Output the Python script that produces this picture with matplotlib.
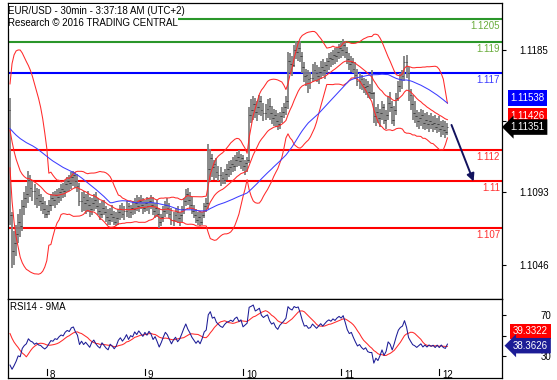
import numpy as np
import pandas as pd
import matplotlib
matplotlib.use('Agg')
import matplotlib.pyplot as plt
import matplotlib.transforms as mtransforms

plt.rcParams['font.family'] = ['Liberation Sans', 'DejaVu Sans']

# ---------------- data (EUR/USD 30 min) ----------------
pre_close = [1.1128, 1.1131, 1.1133, 1.1130, 1.1127, 1.1129, 1.1132, 1.1135, 1.1134, 1.1131,
             1.1128, 1.1130, 1.1133, 1.1136, 1.1138, 1.1135, 1.1132, 1.1134, 1.1137, 1.1139,
             1.1136, 1.1133, 1.1131, 1.1134, 1.1137, 1.1135, 1.1132, 1.1130, 1.1133, 1.1136,
             1.1138, 1.1140, 1.1137, 1.1134, 1.1136, 1.1139, 1.1141, 1.1138, 1.1135, 1.1137,
             1.1140, 1.1142, 1.1139, 1.1136, 1.1138, 1.1141, 1.1143, 1.1140, 1.1146]
first_open = 1.1146

close = [
    1.1078, 1.1055, 1.1060, 1.1066, 1.1074, 1.1071, 1.1084, 1.1089, 1.1092, 1.1101,
    1.1096, 1.1094, 1.1089, 1.1091, 1.1087, 1.1086, 1.1082, 1.1079, 1.1081, 1.1085,
    1.1089, 1.1088, 1.1091, 1.1090, 1.1093, 1.1095, 1.1094, 1.1098, 1.1100, 1.1099,
    1.1103, 1.1104, 1.1100, 1.1097, 1.1087, 1.1090, 1.1086, 1.1088, 1.1085, 1.1082,
    1.1086, 1.1088, 1.1084, 1.1081, 1.1079, 1.1083, 1.1080, 1.1077, 1.1075, 1.1079,
    1.1077, 1.1074, 1.1076, 1.1080, 1.1082, 1.1079, 1.1081, 1.1084, 1.1080, 1.1083,
    1.1082, 1.1086, 1.1084, 1.1087, 1.1085, 1.1083, 1.1086, 1.1084, 1.1087, 1.1085,
    1.1081, 1.1083, 1.1079, 1.1074, 1.1077, 1.1081, 1.1085, 1.1083, 1.1079, 1.1075,
    1.1078, 1.1080, 1.1076, 1.1078, 1.1082, 1.1087, 1.1092, 1.1088, 1.1085, 1.1081,
    1.1078, 1.1075, 1.1077, 1.1074, 1.1078, 1.1084, 1.1086, 1.1108, 1.1115, 1.1109,
    1.1111, 1.1106, 1.1104, 1.1102, 1.1101, 1.1105, 1.1108, 1.1109, 1.1111, 1.1110,
    1.1114, 1.1116, 1.1113, 1.1115, 1.1110, 1.1112, 1.1114, 1.1143, 1.1146, 1.1150,
    1.1145, 1.1148, 1.1152, 1.1146, 1.1144, 1.1147, 1.1149, 1.1144, 1.1141, 1.1143,
    1.1139, 1.1137, 1.1142, 1.1145, 1.1148, 1.1152, 1.1178, 1.1176, 1.1175, 1.1185,
    1.1184, 1.1186, 1.1181, 1.1174, 1.1168, 1.1169, 1.1166, 1.1167, 1.1172, 1.1170,
    1.1168, 1.1171, 1.1174, 1.1172, 1.1175, 1.1178, 1.1180, 1.1179, 1.1182, 1.1181,
    1.1184, 1.1186, 1.1185, 1.1188, 1.1184, 1.1179, 1.1176, 1.1177, 1.1173, 1.1169,
    1.1165, 1.1166, 1.1163, 1.1161, 1.1162, 1.1158, 1.1157, 1.1157, 1.1142, 1.1145,
    1.1141, 1.1144, 1.1148, 1.1140, 1.1143, 1.1151, 1.1148, 1.1140, 1.1146, 1.1154,
    1.1162, 1.1166, 1.1168, 1.1177, 1.1170, 1.1156, 1.1150, 1.1144, 1.1142, 1.1139,
    1.1141, 1.1143, 1.1138, 1.1140, 1.1137, 1.1139, 1.1137, 1.1138, 1.1135, 1.1137,
    1.1134, 1.1136, 1.1133, 1.1132, 1.11351]

high = [
    1.1154, 1.1080, 1.1068, 1.1072, 1.1079, 1.1082, 1.1088, 1.1093, 1.1097, 1.1107,
    1.1104, 1.1100, 1.1098, 1.1096, 1.1095, 1.1092, 1.1090, 1.1087, 1.1085, 1.1088,
    1.1092, 1.1093, 1.1094, 1.1095, 1.1096, 1.1098, 1.1099, 1.1101, 1.1103, 1.1104,
    1.1106, 1.1107, 1.1106, 1.1105, 1.1099, 1.1093, 1.1094, 1.1092, 1.1094, 1.1090,
    1.1089, 1.1092, 1.1093, 1.1089, 1.1086, 1.1087, 1.1088, 1.1084, 1.1082, 1.1083,
    1.1085, 1.1081, 1.1080, 1.1082, 1.1085, 1.1086, 1.1084, 1.1087, 1.1086, 1.1085,
    1.1087, 1.1089, 1.1091, 1.1090, 1.1091, 1.1089, 1.1088, 1.1090, 1.1089, 1.1091,
    1.1090, 1.1086, 1.1088, 1.1083, 1.1079, 1.1084, 1.1087, 1.1089, 1.1086, 1.1083,
    1.1080, 1.1083, 1.1084, 1.1080, 1.1084, 1.1089, 1.1095, 1.1096, 1.1093, 1.1090,
    1.1085, 1.1082, 1.1080, 1.1081, 1.1080, 1.1086, 1.1089, 1.1124, 1.1121, 1.1118,
    1.1114, 1.1115, 1.1110, 1.1109, 1.1106, 1.1108, 1.1111, 1.1113, 1.1114, 1.1116,
    1.1117, 1.1119, 1.1120, 1.1118, 1.1117, 1.1114, 1.1116, 1.1148, 1.1153, 1.1155,
    1.1154, 1.1152, 1.1156, 1.1155, 1.1151, 1.1150, 1.1153, 1.1154, 1.1149, 1.1147,
    1.1146, 1.1144, 1.1145, 1.1148, 1.1151, 1.1155, 1.1184, 1.1183, 1.1181, 1.1188,
    1.1191, 1.1190, 1.1191, 1.1184, 1.1177, 1.1173, 1.1172, 1.1171, 1.1176, 1.1177,
    1.1175, 1.1174, 1.1178, 1.1179, 1.1177, 1.1180, 1.1183, 1.1184, 1.1185, 1.1186,
    1.1187, 1.1189, 1.1190, 1.1192, 1.1191, 1.1187, 1.1183, 1.1181, 1.1180, 1.1177,
    1.1173, 1.1170, 1.1169, 1.1167, 1.1166, 1.1165, 1.1163, 1.1172, 1.1158, 1.1148,
    1.1150, 1.1147, 1.1152, 1.1150, 1.1146, 1.1155, 1.1158, 1.1152, 1.1149, 1.1157,
    1.1165, 1.1170, 1.1172, 1.1181, 1.1182, 1.1174, 1.1160, 1.1156, 1.1152, 1.1146,
    1.1145, 1.1147, 1.1146, 1.1144, 1.1145, 1.1143, 1.1144, 1.1142, 1.1143, 1.1141,
    1.1142, 1.1139, 1.1140, 1.1139, 1.1138]

low = [
    1.1072, 1.1044, 1.1046, 1.1052, 1.1060, 1.1064, 1.1068, 1.1078, 1.1083, 1.1086,
    1.1090, 1.1087, 1.1085, 1.1083, 1.1084, 1.1081, 1.1079, 1.1076, 1.1076, 1.1078,
    1.1081, 1.1084, 1.1083, 1.1085, 1.1086, 1.1087, 1.1089, 1.1090, 1.1093, 1.1094,
    1.1095, 1.1097, 1.1096, 1.1093, 1.1084, 1.1080, 1.1081, 1.1079, 1.1080, 1.1077,
    1.1078, 1.1081, 1.1082, 1.1078, 1.1075, 1.1076, 1.1078, 1.1074, 1.1072, 1.1072,
    1.1074, 1.1072, 1.1071, 1.1072, 1.1075, 1.1076, 1.1075, 1.1077, 1.1076, 1.1076,
    1.1078, 1.1079, 1.1081, 1.1080, 1.1082, 1.1079, 1.1080, 1.1081, 1.1079, 1.1082,
    1.1078, 1.1076, 1.1077, 1.1070, 1.1071, 1.1074, 1.1077, 1.1079, 1.1076, 1.1072,
    1.1071, 1.1074, 1.1073, 1.1071, 1.1074, 1.1079, 1.1084, 1.1085, 1.1082, 1.1079,
    1.1076, 1.1073, 1.1072, 1.1071, 1.1072, 1.1076, 1.1080, 1.1082, 1.1100, 1.1103,
    1.1101, 1.1102, 1.1100, 1.1097, 1.1098, 1.1098, 1.1101, 1.1103, 1.1104, 1.1106,
    1.1107, 1.1109, 1.1110, 1.1108, 1.1107, 1.1104, 1.1106, 1.1112, 1.1138, 1.1140,
    1.1141, 1.1139, 1.1143, 1.1142, 1.1139, 1.1140, 1.1141, 1.1140, 1.1137, 1.1136,
    1.1135, 1.1133, 1.1134, 1.1138, 1.1141, 1.1143, 1.1147, 1.1170, 1.1168, 1.1174,
    1.1179, 1.1178, 1.1177, 1.1170, 1.1164, 1.1162, 1.1157, 1.1160, 1.1164, 1.1165,
    1.1164, 1.1163, 1.1166, 1.1168, 1.1166, 1.1170, 1.1172, 1.1174, 1.1175, 1.1176,
    1.1177, 1.1179, 1.1180, 1.1181, 1.1180, 1.1176, 1.1172, 1.1171, 1.1170, 1.1166,
    1.1162, 1.1160, 1.1159, 1.1157, 1.1156, 1.1154, 1.1153, 1.1153, 1.1138, 1.1136,
    1.1138, 1.1135, 1.1140, 1.1137, 1.1134, 1.1140, 1.1145, 1.1137, 1.1136, 1.1143,
    1.1152, 1.1158, 1.1160, 1.1165, 1.1167, 1.1152, 1.1146, 1.1140, 1.1138, 1.1135,
    1.1134, 1.1136, 1.1134, 1.1133, 1.1134, 1.1132, 1.1134, 1.1132, 1.1133, 1.1131,
    1.1132, 1.1129, 1.1130, 1.1128, 1.1130]

day_bars = [18, 66, 114, 162, 210]
day_labels = ['8', '9', '10', '11', '12']

levels = [1.1205, 1.119, 1.117, 1.112, 1.11, 1.107]
level_labels = ['1.1205', '1.119', '1.117', '1.112', '1.11', '1.107']
level_kinds = ['g', 'g', 'b', 'r', 'r', 'r']

price_ticks = [1.1185, 1.1139, 1.1093, 1.1046]
price_tick_labels = ['1.1185', '', '1.1093', '1.1046']
rsi_ticks = [70, 50, 30]
rsi_tick_labels = ['70', '', '30']

last_ma50 = 1.11538
last_ma20 = 1.11426
last_close = 1.11351
last_rsi_ma = 39.3322
last_rsi = 38.3626

title1 = 'EUR/USD - 30min - 3:37:18 AM (UTC+2)'
title2 = 'Research \u00a9 2016 TRADING CENTRAL'

# ---------------- indicators ----------------
assert len(close) == len(high) == len(low)
n = len(close)
npre = len(pre_close)
full = pd.Series(np.r_[pre_close, close])
sma20 = full.rolling(20).mean()
sd20 = full.rolling(20).std(ddof=0)
bb_up = (sma20 + 2 * sd20).values[npre:]
bb_lo = (sma20 - 2 * sd20).values[npre:]
ema20 = full.ewm(span=20, adjust=False).mean().values[npre:]
ma50 = full.rolling(50, min_periods=1).mean().values[npre:]
d = full.diff().fillna(0)
ag = d.clip(lower=0).ewm(alpha=1 / 14, adjust=False).mean()
al = (-d.clip(upper=0)).ewm(alpha=1 / 14, adjust=False).mean()
rsi_full = 100 - 100 / (1 + ag / al)
rsi_ma_full = rsi_full.rolling(9).mean()
rsi = rsi_full.values[npre:]
rsi_ma = rsi_ma_full.values[npre:]

c = np.array(close)
o = np.r_[first_open, c[:-1]]
h = np.maximum.reduce([np.array(high), o, c])
l = np.minimum.reduce([np.array(low), o, c])
x = np.arange(n)

# ---------------- layout ----------------
W, H = 557, 380
fig = plt.figure(figsize=(W / 100, H / 100), dpi=100)
fig.patch.set_facecolor('white')


def fx(px):
    return px / W


def fy(py):
    return 1 - py / H


ax = fig.add_axes([fx(8), fy(299), fx(502) - fx(8), fy(3) - fy(299)])
axr = fig.add_axes([fx(8), fy(378), fx(502) - fx(8), fy(299) - fy(378)], sharex=ax)

px_per_bar = 2.044
x_left = (8 - 10) / px_per_bar
x_right = (502 - 10) / px_per_bar
ax.set_xlim(x_left, x_right)
ppu = 15407.0
ax.set_ylim(1.1205 - (298 - 19) / ppu, 1.1205 + 16 / ppu)

# price bars
ax.vlines(x, l, h, color='#808080', lw=1.3, zorder=3)
ax.hlines(o, x - 0.45, x, color='#1a1a1a', lw=0.55, zorder=4)
ax.hlines(c, x, x + 0.45, color='#1a1a1a', lw=0.55, zorder=4)

# indicators
ax.plot(x, bb_up, color='#ff2a2a', lw=0.75, zorder=5)
ax.plot(x, bb_lo, color='#ff2a2a', lw=0.75, zorder=5)
ax.plot(x, ema20, color='#ff2a2a', lw=0.75, zorder=5)
ax.plot(x, ma50, color='#3d3dff', lw=0.75, zorder=5)

# level lines
line_col = {'g': '#2a962a', 'b': '#0000ff', 'r': '#ff0000'}
text_col = {'g': '#6aac3c', 'b': '#3b3bff', 'r': '#ff3030'}
ltrans = mtransforms.blended_transform_factory(ax.transAxes, ax.transData)
for lv, lab, k in zip(levels, level_labels, level_kinds):
    ax.axhline(lv, color=line_col[k], lw=1.5, zorder=2)
    t = ltrans + mtransforms.ScaledTranslation(0, -2.0 / 100, fig.dpi_scale_trans)
    ax.text(0.996, lv, lab, transform=t, ha='right', va='top', fontsize=7,
            color=text_col[k], zorder=6)

# trend arrow
ax.annotate('', xy=(226.8, 1.1100), xytext=(216.0, 1.11365),
            arrowprops=dict(arrowstyle='-|>', color='#12125e', lw=1.4,
                            mutation_scale=11, shrinkA=0, shrinkB=0), zorder=7)

# axes styling
for a in (ax, axr):
    for s in a.spines.values():
        s.set_color('black')
        s.set_linewidth(0.9)
ax.set_xticks([])
ax.yaxis.tick_right()
ax.set_yticks(price_ticks)
ax.set_yticklabels(price_tick_labels, ha='right')
ax.tick_params(axis='y', direction='out', length=3, width=0.8, pad=30.5, labelsize=7)

# title (with white background)
fig.patches.append(plt.Rectangle((fx(8.6), fy(29)), fx(178) - fx(8.6), fy(3.6) - fy(29),
                                 transform=fig.transFigure, facecolor='white',
                                 edgecolor='none', zorder=5))
fig.text(fx(7.5), fy(11.5), title1, fontsize=7, va='center', ha='left', zorder=6)
fig.text(fx(7.5), fy(23.5), title2, fontsize=7, va='center', ha='left', zorder=6)

# right price boxes
btrans = mtransforms.blended_transform_factory(fig.transFigure, ax.transData)
ax.text(fx(510.5), last_ma50, '1.11538', transform=btrans, fontsize=7, color='white',
        va='center', ha='left', bbox=dict(boxstyle='square,pad=0.28', fc='#0000ff', ec='none'))
ax.text(fx(510.5), last_ma20, '1.11426', transform=btrans, fontsize=7, color='white',
        va='center', ha='left', bbox=dict(boxstyle='square,pad=0.28', fc='#ff0000', ec='none'))
ax.text(fx(510.5), last_close, '1.11351', transform=btrans, fontsize=7, color='white',
        va='center', ha='left', bbox=dict(boxstyle='larrow,pad=0.28', fc='black', ec='none'))

# ---------------- RSI panel ----------------
rppu = 1.025
axr.set_ylim(30 - (378 - 356) / rppu, 70 + (315 - 299) / rppu)
axr.plot(x, rsi, color='#1c1c96', lw=0.75, zorder=4)
axr.plot(x, rsi_ma, color='#ff2a2a', lw=0.75, zorder=3)
axr.yaxis.tick_right()
axr.set_yticks(rsi_ticks)
axr.set_yticklabels(rsi_tick_labels, ha='right')
axr.tick_params(axis='y', direction='out', length=3, width=0.8, pad=32.5, labelsize=7)
axr.set_xticks([])
axr.text(0.004, (378 - 307.5) / 79, 'RSI14 - 9MA', transform=axr.transAxes, fontsize=7,
         va='center', ha='left')

xt = axr.get_xaxis_transform()
for b, lab in zip(day_bars, day_labels):
    axr.plot([b, b], [(378 - 375) / 79, (378 - 369) / 79], transform=xt, color='black',
             lw=0.8, clip_on=False)
    axr.text(b + 1.5, (378 - 374.5) / 79, lab, transform=xt, fontsize=7, va='center',
             ha='left')

rtrans = mtransforms.blended_transform_factory(fig.transFigure, axr.transAxes)
axr.text(fx(513), (378 - 331.5) / 79, '39.3322', transform=rtrans, fontsize=7, color='white',
         va='center', ha='left', bbox=dict(boxstyle='square,pad=0.28', fc='#ff0000', ec='none'),
         zorder=8)
axr.text(fx(513), (378 - 345.7) / 79, '38.3626', transform=rtrans, fontsize=7, color='white',
         va='center', ha='left', bbox=dict(boxstyle='larrow,pad=0.28', fc='#1c1c96', ec='none'),
         zorder=8)

fig.savefig('out.png', dpi=100)
